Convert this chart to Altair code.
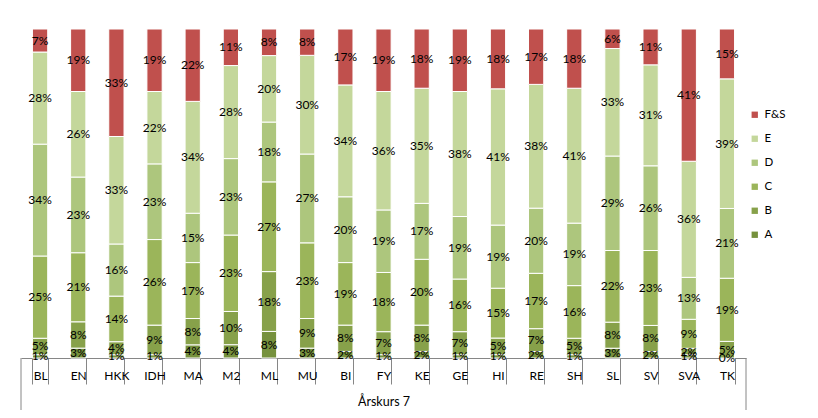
import altair as alt
import pandas as pd

subjects = ["BL", "EN", "HKK", "IDH", "MA", "M2", "ML", "MU", "BI", "FY",
            "KE", "GE", "HI", "RE", "SH", "SL", "SV", "SVA", "TK"]
grades = ["A", "B", "C", "D", "E", "F&S"]

val_A = [1, 3, 1, 1, 4, 4, 8, 3, 2, 1, 2, 1, 1, 2, 1, 3, 2, 1, 0]
val_B = [5, 8, 4, 9, 8, 10, 18, 9, 8, 7, 8, 7, 5, 7, 5, 8, 8, 2, 5]
val_C = [25, 21, 14, 26, 17, 23, 27, 23, 19, 18, 20, 16, 15, 17, 16, 22, 23, 9, 19]
val_D = [34, 23, 16, 23, 15, 23, 18, 27, 20, 19, 17, 19, 19, 20, 19, 29, 26, 13, 21]
val_E = [28, 26, 33, 22, 34, 28, 20, 30, 34, 36, 35, 38, 41, 38, 41, 33, 31, 36, 39]
val_F = [7, 19, 33, 19, 22, 11, 8, 8, 17, 19, 18, 19, 18, 17, 18, 6, 11, 41, 15]

legend_order = ["F&S", "E", "D", "C", "B", "A"]
colors = ["#c0504d", "#c4d79b", "#adc67d", "#9bb55a", "#87a14a", "#76913d"]

rows = []
for gi, (g, vals) in enumerate(zip(grades, [val_A, val_B, val_C, val_D, val_E, val_F])):
    for s, v in zip(subjects, vals):
        rows.append({"subject": s, "grade": g, "value": v, "order": gi})
df = pd.DataFrame(rows)

FONT = "Lato"
W, H = 725, 329

x_enc = alt.X(
    "subject:N",
    sort=subjects,
    scale=alt.Scale(paddingInner=0.6, paddingOuter=0.3),
    axis=alt.Axis(
        title="Årskurs 7", labelAngle=0, tickBand="extent", tickSize=26,
        labelPadding=-14, domainColor="#868686", tickColor="#868686",
        labelFont=FONT, labelFontSize=12, labelColor="#000000",
        titleFont=FONT, titleFontSize=12.5, titleFontWeight="normal",
        titleColor="#000000", titleY=43, titleBaseline="middle", grid=False,
    ),
)

base = (
    alt.Chart(df)
    .transform_joinaggregate(total="sum(value)", groupby=["subject"])
    .transform_stack(stack="value", groupby=["subject"],
                     sort=[alt.SortField("order", order="ascending")],
                     as_=["s0", "s1"])
    .transform_calculate(
        y0="datum.s0 / datum.total",
        y1="datum.s1 / datum.total",
        ym="(datum.s0 + datum.s1) / 2 / datum.total",
        label="datum.value + '%'",
    )
)

bars = base.mark_bar(stroke="white", strokeWidth=1).encode(
    x=x_enc,
    y=alt.Y("y0:Q", scale=alt.Scale(domain=[0, 1]), axis=None),
    y2="y1:Q",
    color=alt.Color(
        "grade:N",
        scale=alt.Scale(domain=legend_order, range=colors),
        legend=alt.Legend(
            title=None, orient="none", legendX=728, legendY=80,
            symbolType="square", symbolSize=40, symbolStrokeWidth=0,
            labelFont=FONT, labelFontSize=11.5, labelColor="#000000",
            rowPadding=11, padding=0,
        ),
    ),
)

texts = base.mark_text(font=FONT, fontSize=12, color="#000000").encode(
    x=x_enc,
    y=alt.Y("ym:Q", scale=alt.Scale(domain=[0, 1]), axis=None),
    text="label:N",
)

frame_df = pd.DataFrame({"k": [0]})
left_line = alt.Chart(frame_df).mark_rule(color="#868686").encode(
    x=alt.value(0), y=alt.value(H), y2=alt.value(H + 52))
right_line = alt.Chart(frame_df).mark_rule(color="#868686").encode(
    x=alt.value(W), y=alt.value(H), y2=alt.value(H + 52))

chart = (
    alt.layer(bars, texts, left_line, right_line)
    .properties(width=W, height=H,
                padding={"left": 12, "top": 20, "right": 5, "bottom": 5})
    .configure_view(strokeWidth=0)
)

chart.save("out.html", embed_options={"renderer": "svg", "actions": False})
